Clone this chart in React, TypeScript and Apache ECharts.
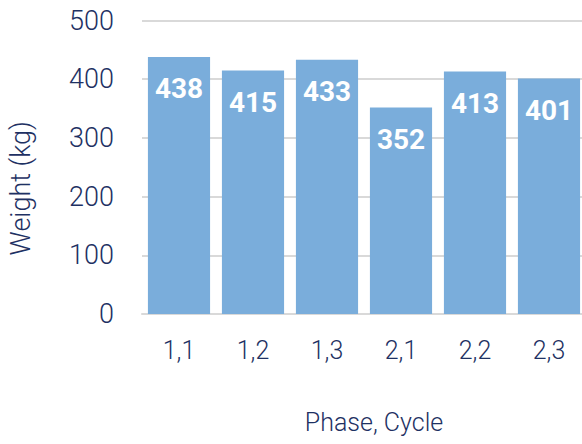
import React, { useEffect, useRef } from "react";
import * as echarts from "echarts";

const categories = ["1,1", "1,2", "1,3", "2,1", "2,2", "2,3"];
const weights = [438, 415, 433, 352, 413, 401];
const yTicks = { min: 0, max: 500, interval: 100 };

const TEXT = "#1e3163";
const BAR = "#7aaddb";
const FONT = "Roboto";

export default function App() {
  const ref = useRef<HTMLDivElement>(null);
  useEffect(() => {
    const chart = echarts.init(ref.current!, null, { renderer: "svg" });
    chart.setOption({
      animation: false,
      grid: { left: 142, width: 444, top: 20.5, bottom: 130, outerBoundsMode: "none", containLabel: false },
      xAxis: {
        type: "category",
        data: categories,
        name: "Phase, Cycle",
        nameLocation: "middle",
        nameGap: 96,
        nameTextStyle: { color: TEXT, fontSize: 25, fontFamily: FONT, fontWeight: 300, padding: [0, 0, 0, 20] },
        axisLine: { show: true, lineStyle: { color: "#d9d9d9", width: 2 } },
        axisTick: { show: false },
        axisLabel: { color: TEXT, fontSize: 25, fontFamily: FONT, fontWeight: 300, margin: 24 },
      },
      yAxis: {
        type: "value",
        min: yTicks.min,
        max: yTicks.max,
        interval: yTicks.interval,
        name: "Weight (kg)",
        nameLocation: "middle",
        nameGap: 108,
        nameTextStyle: { color: TEXT, fontSize: 27, fontFamily: FONT, fontWeight: 300, padding: [0, 42, 0, 0] },
        axisLine: { show: false },
        axisTick: { show: false },
        splitLine: { lineStyle: { color: "#d9d9d9", width: 2 } },
        axisLabel: { color: TEXT, fontSize: 27, fontFamily: FONT, fontWeight: 300, margin: 28 },
      },
      series: [
        {
          type: "bar",
          data: weights,
          barCategoryGap: "16%",
          itemStyle: { color: BAR },
          label: {
            show: true,
            position: "insideTop",
            distance: 18,
            color: "#ffffff",
            fontSize: 28,
            fontWeight: "bold",
            fontFamily: FONT,
          },
        },
      ],
    });
    return () => chart.dispose();
  }, []);
  return <div ref={ref} style={{ width: 582, height: 444, position: "absolute", left: 0, top: 0 }} />;
}
